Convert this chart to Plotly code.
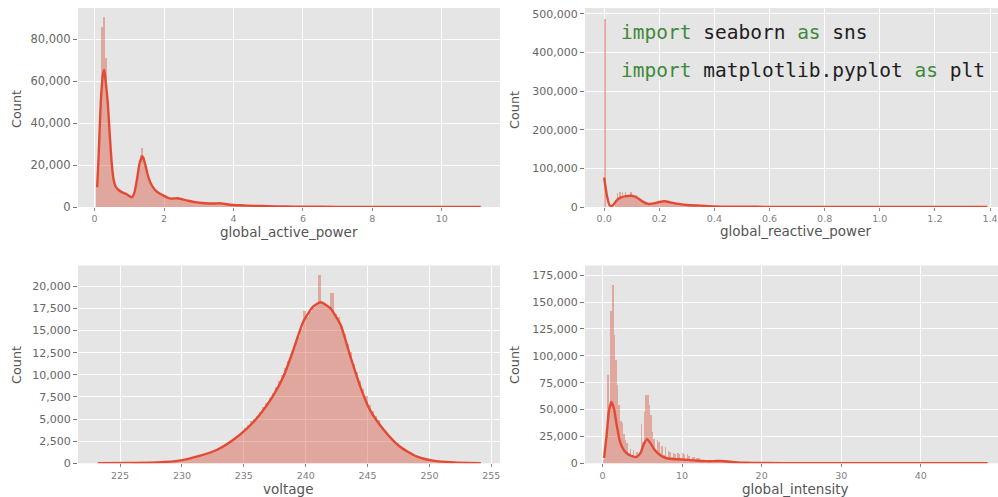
import numpy as np
import plotly.graph_objects as go

# ---------------- data ----------------
# Panel 1: global_active_power  (bins start 0.05, width 0.05)
gap_bin_start, gap_bin_width = 0.05, 0.05
gap_counts = [10000, 25000, 50000, 86000, 90500, 71000, 52000, 40000, 26000, 16000,
              11500, 9000, 8000, 7300, 6800, 6500, 6300, 6000, 5500, 5000,
              4600, 5500, 8500, 14000, 20000, 25000, 28000, 24000, 20000, 16000,
              13000, 11000, 9800, 8800, 8000, 7300, 6800, 6200, 5800, 5400,
              5000, 4600, 4300, 4200, 4200, 4300, 4300, 4200, 4000, 3800,
              3500, 3300, 3100, 2900, 2700, 2500, 2400, 2200, 2100, 2000,
              1900, 1800, 1750, 1700, 1650, 1650, 1650, 1650, 1700, 1750,
              1800, 1800, 1700, 1550, 1400, 1250, 1100, 1000, 900, 820,
              780, 740, 700, 660, 620, 590, 560, 530, 500, 480,
              460, 440, 420, 400, 380, 360, 340, 320, 300]
gap_kde_x = [0.076, 0.12, 0.18, 0.24, 0.28, 0.32, 0.38, 0.44, 0.5, 0.55, 0.6, 0.7, 0.8, 0.9,
             1.0, 1.07, 1.15, 1.22, 1.3, 1.38, 1.45, 1.52, 1.6, 1.7, 1.8, 1.9, 2.0, 2.1,
             2.2, 2.3, 2.4, 2.5, 2.7, 2.9, 3.1, 3.3, 3.5, 3.6, 3.7, 3.9, 4.2, 4.6, 5.0,
             5.5, 6.0, 7.0, 8.0, 9.0, 10.0, 11.12]
gap_kde_y = [9500, 25000, 50000, 63000, 65500, 60000, 50000, 34000, 20000, 13000, 10000, 8000,
             7000, 6300, 5300, 4600, 7000, 13000, 21000, 24200, 21000, 16000, 12000, 9000,
             7300, 6200, 5300, 4500, 4000, 4100, 4200, 3800, 3000, 2300, 1900, 1700, 1700,
             1800, 1600, 1100, 800, 550, 400, 250, 150, 80, 40, 20, 10, 5]

# Panel 2: global_reactive_power (bins start 0, width 0.005), counts in thousands
grp_bin_start, grp_bin_width = 0.0, 0.005
grp_counts_k = [487, 0, 0, 0, 0, 0, 0, 0, 18, 36, 20, 38, 22, 38, 24, 40, 25, 30, 26, 38,
                26, 28, 24, 30, 20, 22, 16, 15, 12, 11, 9, 9, 9, 9, 10, 10, 11, 12, 13, 14,
                15, 16, 17, 18, 17, 16, 15, 13, 11, 10, 9, 8, 7, 6.5, 6, 5.5, 5, 5, 4.5, 4.2,
                4, 3.8, 3.6, 3.4, 3.2, 3, 2.8, 2.6, 2.4, 2.2, 2, 1.8, 1.6, 1.4, 1.3, 1.2, 1.1,
                1, 0.9, 0.8]
grp_kde_x = [0.0, 0.01, 0.02, 0.03, 0.04, 0.05, 0.06, 0.08, 0.10, 0.12, 0.14, 0.16, 0.18,
             0.2, 0.22, 0.24, 0.27, 0.3, 0.35, 0.4, 0.5, 0.6, 0.8, 1.0, 1.2, 1.39]
grp_kde_y_k = [76, 30, 4, 3, 12, 20, 24, 28, 29, 24, 14, 8, 9.5, 13, 15, 12, 8, 5, 3.5,
               1.5, 0.7, 0.3, 0.1, 0.05, 0.02, 0.01]

# Panel 3: voltage (bins start 226.0, width 0.25), counts in thousands
volt_bin_start, volt_bin_width = 226.0, 0.25
volt_counts_k = [0.04, 0.05, 0.05, 0.06, 0.06, 0.07, 0.08, 0.09, 0.1, 0.12, 0.14, 0.16,
                 0.19, 0.22, 0.26, 0.3, 0.36, 0.45, 0.55, 0.65, 0.75, 0.85, 0.95, 1.05,
                 1.15, 1.3, 1.45, 1.6, 1.75, 1.95, 2.2, 2.45, 2.7, 3.0, 3.3, 3.65,
                 4.0, 4.4, 4.8, 5.1, 5.4, 5.9, 6.4, 6.9, 7.4, 8.0, 8.7, 9.3,
                 10.0, 10.8, 11.6, 12.4, 13.2, 14.3, 15.2, 17.3, 16.6, 17.2, 17.6, 17.9,
                 21.3, 18.1, 18.0, 17.7, 19.3, 16.9, 16.6, 15.6, 14.7, 13.5, 12.6, 11.3,
                 10.4, 9.4, 8.5, 7.7, 6.6, 6.0, 5.4, 4.9, 4.2, 3.8, 3.4, 3.0,
                 2.6, 2.3, 2.0, 1.75, 1.5, 1.3, 1.1, 0.95, 0.8, 0.68, 0.58, 0.5,
                 0.42, 0.36, 0.3, 0.26, 0.22, 0.18, 0.15, 0.12]
volt_kde_x = [223.2, 226, 228, 229.8, 231.4, 232.8, 234.1, 235.2, 236.3, 237.4, 238.2, 239.0,
              239.8, 240.6, 241.2, 241.96, 242.8, 243.6, 244.4, 245.2, 246.3, 247.6, 249.0,
              250.3, 252.0, 254.15]
volt_kde_y_k = [0.02, 0.05, 0.1, 0.3, 0.83, 1.5, 2.6, 3.85, 5.5, 7.7, 9.8, 12.8, 16.0, 17.7,
                18.2, 17.55, 15.7, 12.1, 8.7, 6.0, 3.8, 1.9, 0.75, 0.3, 0.1, 0.02]

# Panel 4: global_intensity (bins start 0.0, width 0.2), counts in thousands
gi_bin_start, gi_bin_width = 0.0, 0.2
gi_counts_k = [4, 12, 30, 83, 50, 142, 166, 120, 97, 73, 55, 40, 38, 28, 22, 19, 10, 14, 8, 13,
               7, 11, 6, 10, 37, 20, 48, 64, 64, 55, 45, 30, 23, 12, 22, 20, 10, 17, 8, 16,
               6, 12, 11, 6, 10, 9, 5, 10, 9, 4, 10, 8, 4, 9, 7, 3, 6, 6, 3, 5,
               5, 2, 4, 4, 2, 3.5, 3.5, 2, 3, 3, 2, 3, 3, 2, 3.5, 3, 2, 3.5, 3, 1.5,
               2.5, 2, 1, 1.5, 1.5, 0.8, 1.2, 1, 0.6, 0.8, 0.7, 0.5]
gi_kde_x = [0.2, 0.5, 0.8, 1.1, 1.4, 1.8, 2.2, 2.7, 3.2, 3.8, 4.3, 4.8, 5.2, 5.6, 6.0, 6.5,
            7.0, 7.6, 8.4, 9.2, 10.0, 11.0, 12.0, 13.0, 14.0, 15.0, 16.0, 17.0, 18.0, 20.0,
            25.0, 30.0, 40.0, 48.4]
gi_kde_y_k = [5, 25, 48, 57, 52, 35, 20, 12, 8.5, 6.5, 6, 10, 18, 22.5, 19, 13, 9, 6, 4.2,
              3.8, 3.6, 3.0, 2.4, 2.0, 2.0, 2.2, 1.5, 0.9, 0.6, 0.3, 0.1, 0.05, 0.02, 0.01]

code_lines = [("import", " seaborn ", "as", " sns"),
              ("import", " matplotlib.pyplot ", "as", " plt")]

# ---------------- styling ----------------
BAR = "rgba(214,80,58,0.42)"
LINE = "#E24A33"
BG = "#E5E5E5"
TICK = "#666666"

fig = go.Figure()

panels = [
    dict(start=gap_bin_start, width=gap_bin_width, counts=np.array(gap_counts, float),
         kx=gap_kde_x, ky=np.array(gap_kde_y, float), xa="x", ya="y"),
    dict(start=grp_bin_start, width=grp_bin_width, counts=np.array(grp_counts_k) * 1000,
         kx=grp_kde_x, ky=np.array(grp_kde_y_k) * 1000, xa="x2", ya="y2"),
    dict(start=volt_bin_start, width=volt_bin_width, counts=np.array(volt_counts_k) * 1000,
         kx=volt_kde_x, ky=np.array(volt_kde_y_k) * 1000, xa="x3", ya="y3"),
    dict(start=gi_bin_start, width=gi_bin_width, counts=np.array(gi_counts_k) * 1000,
         kx=gi_kde_x, ky=np.array(gi_kde_y_k) * 1000, xa="x4", ya="y4"),
]

for p in panels:
    n = len(p["counts"])
    centers = p["start"] + p["width"] * (np.arange(n) + 0.5)
    fig.add_trace(go.Bar(x=centers, y=p["counts"], width=p["width"],
                         marker=dict(color=BAR, line=dict(width=0)),
                         xaxis=p["xa"], yaxis=p["ya"], showlegend=False))
    fig.add_trace(go.Scatter(x=p["kx"], y=p["ky"], mode="lines",
                             line=dict(color=LINE, width=2.4, shape="spline", smoothing=0.6),
                             xaxis=p["xa"], yaxis=p["ya"], showlegend=False))

W, H = 998, 497
dom_x_left = [78 / W, 500 / W]
dom_x_right = [585 / W, 1.0]
dom_y_top = [(H - 207) / H, (H - 8) / H]
dom_y_bot = [(H - 463.3) / H, (H - 265.5) / H]


def xax(domain, rng, tickvals, ticktext, anchor):
    return dict(domain=domain, range=rng, tickvals=tickvals, ticktext=ticktext,
                showgrid=True, gridcolor="white", gridwidth=1.2, zeroline=False,
                ticks="outside", ticklen=3, tickcolor="#888", tickwidth=1,
                tickfont=dict(family="DejaVu Sans", size=9.5, color="#808080"),
                anchor=anchor, showline=False, fixedrange=True, automargin=False)


def yax(domain, rng, tickvals, anchor, size):
    return dict(domain=domain, range=rng, tickvals=tickvals, tickformat=",d",
                showgrid=True, gridcolor="white", gridwidth=1.2, zeroline=False,
                ticks="outside", ticklen=4, tickcolor="#777", tickwidth=1,
                tickfont=dict(family="DejaVu Sans", size=size, color=TICK),
                anchor=anchor, showline=False, fixedrange=True, automargin=False)


fig.update_layout(
    width=W, height=H,
    margin=dict(l=0, r=0, t=0, b=0, autoexpand=False),
    paper_bgcolor="white", plot_bgcolor=BG,
    barmode="overlay", bargap=0,
    xaxis=xax(dom_x_left, [-0.476, 11.674], [0, 2, 4, 6, 8, 10],
              ["0", "2", "4", "6", "8", "10"], "y"),
    yaxis=yax(dom_y_top, [0, 95000], [0, 20000, 40000, 60000, 80000], "x", 11.5),
    xaxis2=xax(dom_x_right, [-0.0695, 1.429], [0, 0.2, 0.4, 0.6, 0.8, 1.0, 1.2, 1.4],
               ["0.0", "0.2", "0.4", "0.6", "0.8", "1.0", "1.2", "1.4"], "y2"),
    yaxis2=yax(dom_y_top, [0, 515000], [0, 100000, 200000, 300000, 400000, 500000], "x2", 11),
    xaxis3=xax(dom_x_left, [221.6, 255.7], [225, 230, 235, 240, 245, 250, 255],
               ["225", "230", "235", "240", "245", "250", "255"], "y3"),
    yaxis3=yax(dom_y_bot, [0, 22350], [0, 2500, 5000, 7500, 10000, 12500, 15000, 17500, 20000],
               "x3", 11),
    xaxis4=xax(dom_x_right, [-2.2, 49.7], [0, 10, 20, 30, 40],
               ["0", "10", "20", "30", "40"], "y4"),
    yaxis4=yax(dom_y_bot, [0, 184000], [0, 25000, 50000, 75000, 100000, 125000, 150000, 175000],
               "x4", 11),
)

# axis titles
title_font = dict(family="DejaVu Sans", size=13.5, color="#555555")
xtitles = [("global_active_power", 289, 232), ("global_reactive_power", 795, 231),
           ("voltage", 288, 489), ("global_intensity", 795, 489)]
for txt, px, py in xtitles:
    fig.add_annotation(text=txt, x=px / W, y=(H - py) / H, xref="paper", yref="paper",
                       showarrow=False, xanchor="center", yanchor="middle", font=title_font)
for px, py in [(16, 109), (514, 110), (16, 365), (514, 365)]:
    fig.add_annotation(text="Count", x=px / W, y=(H - py) / H, xref="paper", yref="paper",
                       showarrow=False, xanchor="center", yanchor="middle", textangle=-90,
                       font=dict(family="DejaVu Sans", size=12.8, color="#555555"))

# code overlay
GREEN = "#3f8a3a"
for (kw1, mid, kw2, tail), py in zip(code_lines, [33, 70]):
    txt = (f'<span style="color:{GREEN}">{kw1}</span>{mid.replace(" ", "&nbsp;")}'
           f'<span style="color:{GREEN}">{kw2}</span>{tail.replace(" ", "&nbsp;")}')
    fig.add_annotation(text=txt, x=619 / W, y=(H - py) / H, xref="paper", yref="paper",
                       showarrow=False, xanchor="left", yanchor="middle",
                       font=dict(family="DejaVu Sans Mono", size=19.5, color="#1e1e1e"))

fig.write_html("out.html", config={"displayModeBar": False},
               post_script="document.body.style.margin='0';document.body.style.overflow='hidden';")
